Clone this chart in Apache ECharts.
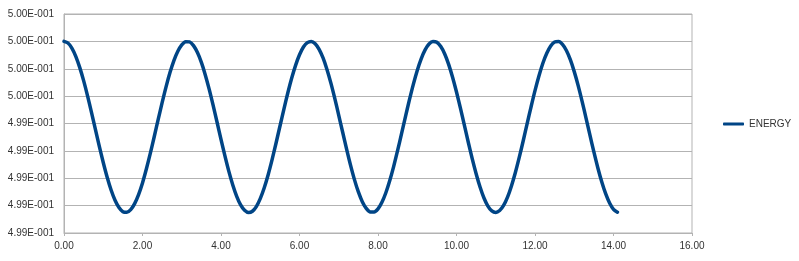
<!DOCTYPE html>
<html>
<head>
<meta charset="utf-8">
<script src="https://cdn.jsdelivr.net/npm/echarts@6/dist/echarts.min.js"></script>
<style>
html,body{margin:0;padding:0;background:#fff;}
#chart{width:799px;height:261px;}
</style>
</head>
<body>
<div id="chart"></div>
<script>
// Time values (x)
const times = [
  0.0,0.1,0.2,0.3,0.4,0.5,0.6,0.7,0.8,0.9,1.0,1.1,1.2,1.3,1.4,1.5,1.6,1.7,1.8,1.9,
  2.0,2.1,2.2,2.3,2.4,2.5,2.6,2.7,2.8,2.9,3.0,3.1,3.2,3.3,3.4,3.5,3.6,3.7,3.8,3.9,
  4.0,4.1,4.2,4.3,4.4,4.5,4.6,4.7,4.8,4.9,5.0,5.1,5.2,5.3,5.4,5.5,5.6,5.7,5.8,5.9,
  6.0,6.1,6.2,6.3,6.4,6.5,6.6,6.7,6.8,6.9,7.0,7.1,7.2,7.3,7.4,7.5,7.6,7.7,7.8,7.9,
  8.0,8.1,8.2,8.3,8.4,8.5,8.6,8.7,8.8,8.9,9.0,9.1,9.2,9.3,9.4,9.5,9.6,9.7,9.8,9.9,
  10.0,10.1,10.2,10.3,10.4,10.5,10.6,10.7,10.8,10.9,11.0,11.1,11.2,11.3,11.4,11.5,11.6,11.7,11.8,11.9,
  12.0,12.1,12.2,12.3,12.4,12.5,12.6,12.7,12.8,12.9,13.0,13.1,13.2,13.3,13.4,13.5,13.6,13.7,13.8,13.9,
  14.0,14.1
];

// ENERGY values (y)
const energy = [
  0.4997000,0.4996940,0.4996755,0.4996455,0.4996050,0.4995565,0.4995010,0.4994405,0.4993785,0.4993165,
  0.4992575,0.4992035,0.4991570,0.4991195,0.4990930,0.4990780,0.4990755,0.4990855,0.4991075,0.4991405,
  0.4991830,0.4992345,0.4992915,0.4993525,0.4994150,0.4994760,0.4995340,0.4995860,0.4996300,0.4996640,
  0.4996875,0.4996990,
  0.4996980,0.4996845,0.4996590,0.4996230,0.4995775,0.4995245,0.4994660,0.4994045,0.4993420,0.4992815,
  0.4992250,0.4991755,0.4991340,0.4991025,0.4990830,0.4990750,0.4990795,0.4990965,0.4991255,0.4991645,
  0.4992120,0.4992670,0.4993270,0.4993890,0.4994510,0.4995105,0.4995650,0.4996125,0.4996510,0.4996795,
  0.4996955,
  0.4997000,0.4996915,0.4996710,0.4996395,0.4995975,0.4995475,0.4994910,0.4994300,0.4993680,0.4993065,
  0.4992480,0.4991950,0.4991500,0.4991145,0.4990900,0.4990770,0.4990765,0.4990880,0.4991120,0.4991470,
  0.4991915,0.4992435,0.4993015,0.4993630,0.4994255,0.4994860,0.4995430,0.4995940,0.4996365,0.4996690,
  0.4996905,0.4996995,
  0.4996965,0.4996810,0.4996540,0.4996160,0.4995690,0.4995150,0.4994560,0.4993940,0.4993315,0.4992715,
  0.4992165,0.4991680,0.4991280,0.4990985,0.4990805,0.4990750,0.4990820,0.4991005,0.4991310,0.4991720,
  0.4992210,0.4992770,0.4993370,0.4993995,0.4994610,0.4995200,0.4995735,0.4996200,0.4996565,0.4996830,
  0.4996975,
  0.4996995,0.4996890,0.4996665,0.4996330,0.4995895,0.4995385,0.4994810,0.4994200,0.4993575,0.4992960,
  0.4992385,0.4991870,0.4991435,0.4991095,0.4990865,0.4990760
];

const seriesName = 'ENERGY';
const xMin = 0, xMax = 16, xStep = 2;
const yMin = 0.4990, yMax = 0.4998, yStep = 0.0001;

// Spreadsheet-style "0.00E+000" formatting
function sci(v) {
  if (v === 0) return '0.00E+000';
  let e = Math.floor(Math.log10(Math.abs(v)));
  let m = v / Math.pow(10, e);
  m = Math.round(m * 100 + 1e-6) / 100;
  if (Math.abs(m) >= 10) { m = m / 10; e += 1; }
  let digits = String(Math.abs(e));
  while (digits.length < 3) digits = '0' + digits;
  return m.toFixed(2) + 'E' + (e < 0 ? '-' : '') + digits;
}

const data = times.map((t, i) => [t, energy[i]]);
const gridColor = '#b3b3b3';
const textStyle = { fontFamily: 'Liberation Sans', fontSize: 10, color: '#333333' };

const chart = echarts.init(document.getElementById('chart'), null, { renderer: 'canvas' });
chart.setOption({
  animation: false,
  backgroundColor: '#ffffff',
  grid: {
    left: 64, top: 14, right: 107, bottom: 28,
    show: true, borderColor: gridColor, borderWidth: 1, backgroundColor: 'transparent'
  },
  legend: {
    data: [seriesName],
    orient: 'vertical',
    left: 723, top: 118,
    padding: 0,
    icon: 'roundRect',
    itemWidth: 21, itemHeight: 3,
    textStyle: Object.assign({ lineHeight: 12 }, textStyle)
  },
  xAxis: {
    type: 'value', min: xMin, max: xMax, interval: xStep,
    axisLine: { show: true, lineStyle: { color: gridColor, width: 1 } },
    axisTick: { show: true, length: 3, lineStyle: { color: gridColor } },
    splitLine: { show: false },
    axisLabel: Object.assign({ margin: 8, formatter: v => v.toFixed(2) }, textStyle)
  },
  yAxis: {
    type: 'value', min: yMin, max: yMax, interval: yStep,
    axisLine: { show: true, lineStyle: { color: gridColor, width: 1 } },
    axisTick: { show: false },
    splitLine: { show: true, lineStyle: { color: gridColor, width: 1 } },
    axisLabel: Object.assign({ margin: 10, formatter: v => sci(v) }, textStyle)
  },
  series: [{
    name: seriesName,
    type: 'line',
    data: data,
    symbol: 'none',
    smooth: 0.3,
    lineStyle: { color: '#004586', width: 3.5, cap: 'round', join: 'round' },
    itemStyle: { color: '#004586' }
  }]
});
</script>
</body>
</html>
